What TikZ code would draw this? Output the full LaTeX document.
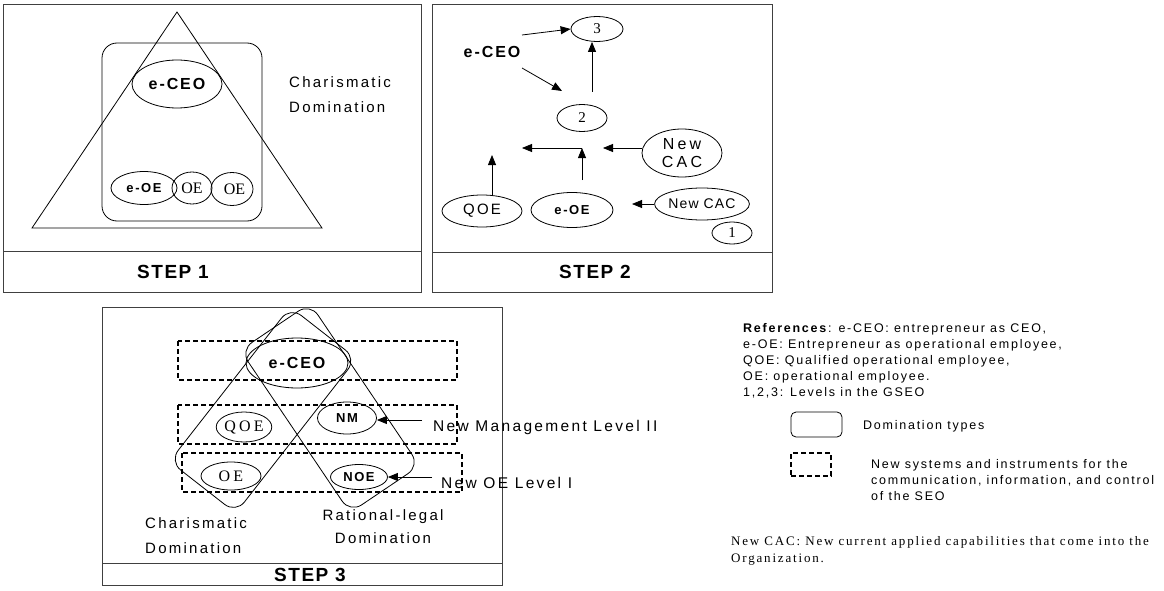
\documentclass[tikz,border=0pt]{standalone}
\usepackage{fontspec}
\setmainfont{Liberation Serif}
\newfontfamily\wsans[LetterSpace=15]{Liberation Sans}
\newfontfamily\tsans[LetterSpace=12]{Liberation Sans}
\newfontfamily\ssans[LetterSpace=8]{Liberation Sans}
\newfontfamily\csans[LetterSpace=20]{Liberation Sans}
\newfontfamily\lsans[LetterSpace=14]{Liberation Sans}
\newfontfamily\wserif[LetterSpace=20]{Liberation Serif}
\newfontfamily\lserif[LetterSpace=14]{Liberation Serif}
\usetikzlibrary{arrows.meta,shapes.geometric}
\tikzset{oval/.style={ellipse,draw,inner sep=0pt,line width=.8pt},
  domtype/.style={draw,rounded corners=14pt,line width=.8pt,minimum width=196pt,minimum height=84pt,inner sep=0pt},
  sysbox/.style={draw,dash pattern=on 5pt off 3pt,line width=1.2pt},
  panel/.style={line width=.9pt,black!75},
  arrow/.style={-{Triangle[length=10pt,width=8pt]},line width=.8pt},
  steptxt/.style={font=\ssans\bfseries\fontsize{19}{22}\selectfont,inner sep=0pt},
  tagtxt/.style={font=\tsans\bfseries\fontsize{13}{15}\selectfont},
  ceotxt/.style={font=\tsans\bfseries\fontsize{16}{18}\selectfont},
  captxt/.style={font=\wsans\fontsize{15}{25}\selectfont,align=left,inner sep=0pt},
  romtxt/.style={font=\wserif\fontsize{16}{18}\selectfont},
  numtxt/.style={font=\rmfamily\fontsize{15}{17}\selectfont},
  legtxt/.style={font=\lsans\fontsize{12.5}{16}\selectfont,align=left,inner sep=0pt}}
\begin{document}
\begin{tikzpicture}[x=1pt,y=-1pt]
  \path[use as bounding box] (0,0) rectangle (1164,591);
  \draw[panel] (3,4) rectangle (421,292) (3,251) -- (421,251);
  \draw[panel] (432,4) rectangle (772,292) (432,252) -- (772,252);
  \draw[panel] (102,307) rectangle (502,585) (102,563) -- (502,563);
  \node[steptxt] (s1) at (173,272) {STEP 1};
  \node[steptxt] (s2) at (595,272) {STEP 2};
  \node[steptxt] (s3) at (310,575) {STEP 3};

  \draw[line width=.8pt] (177,12) -- (32,228) -- (322,228) -- cycle;
  \draw[line width=.8pt,rounded corners=15pt] (102,43) rectangle (262,221);
  \node[oval,minimum width=90pt,minimum height=48pt,ceotxt] (ceo1) at (177,84) {e-CEO};
  \node[oval,minimum width=66pt,minimum height=33pt,tagtxt] (eoe1) at (144,188) {e-OE};
  \node[oval,minimum width=40pt,minimum height=32pt,font=\rmfamily\fontsize{16}{18}\selectfont] (oe1) at (192,188) {OE};
  \node[oval,minimum width=42pt,minimum height=33pt,font=\rmfamily\fontsize{16}{18}\selectfont] (oe2) at (232,189) {\raisebox{-4pt}{\hspace*{5pt}OE}};
  \node[captxt,anchor=west] (chd1) at (289,94.5) {Charismatic\\Domination};

  \node[ceotxt] (ceo2) at (492,52) {e-CEO};
  \node[oval,minimum width=52pt,minimum height=25pt,numtxt] (lv3) at (597,29) {3};
  \node[oval,minimum width=50pt,minimum height=27pt,numtxt] (lv2) at (582,118) {2};
  \node[oval,minimum width=40pt,minimum height=22pt,numtxt] (lv1) at (732,233) {\raisebox{-6pt}{1}};
  \node[oval,minimum width=80pt,minimum height=48pt,font=\csans\fontsize{16}{18}\selectfont,align=center] (cac2) at (682,153) {New\\CAC};
  \node[oval,minimum width=81pt,minimum height=32pt,font=\ssans\fontsize{14}{16}\selectfont] (cac1) at (702,204) {New CAC};
  \node[oval,minimum width=80pt,minimum height=32pt,font=\wsans\fontsize{15}{17}\selectfont] (qoe2) at (482,211) {QOE};
  \node[oval,minimum width=82pt,minimum height=35pt,tagtxt] (eoe2) at (572,210) {e-OE};
  \coordinate (c3) at (522,35);
  \coordinate (c2) at (522,68);
  \coordinate (c2t) at (562,91);
  \coordinate (c23) at (592,92);
  \coordinate (ja) at (603,148);
  \coordinate (jb) at (582,148);
  \coordinate (jc) at (522,148);
  \coordinate (jd) at (582,180);
  \coordinate (qa) at (492,155);
  \coordinate (ka) at (632,204);
  \draw[arrow] (c3) -- (lv3.west);
  \draw[arrow] (c2) -- (c2t);
  \draw[arrow] (c23) -- (c23 |- lv3.south);
  \draw[arrow] (ja -| cac2.west) -- (ja);
  \draw[arrow] (jd) -- (jb);
  \draw[arrow] (jb) -- (jc);
  \draw[arrow] (qa |- qoe2.north) -- (qa);
  \draw[arrow] (cac1.west) -- (ka);

  \draw[sysbox] (178,341) rectangle (457,380);
  \draw[sysbox] (178,405) rectangle (457,444);
  \draw[sysbox] (182,453) rectangle (462,492);
  \node[domtype,rotate=52] (chd3) at (263,410) {};
  \node[domtype,rotate=-56] (rld3) at (330,408) {};
  \node[oval,minimum width=102pt,minimum height=50pt,ceotxt] (ceo3) at (297,363) {e-CEO};
  \node[oval,minimum width=52pt,minimum height=30pt,romtxt] (qoe3) at (244,427) {QOE};
  \node[oval,minimum width=59pt,minimum height=32pt,tagtxt] (nm3) at (347,418) {NM};
  \node[oval,minimum width=60pt,minimum height=28pt,romtxt] (oe3) at (231,476) {OE};
  \node[oval,minimum width=57pt,minimum height=25pt,tagtxt] (noe3) at (359,477) {NOE};
  \coordinate (nma) at (422,420);
  \coordinate (noea) at (432,477);
  \draw[arrow] (nma) -- (nma -| nm3.east);
  \draw[arrow] (noea) -- (noe3.east);
  \node[captxt,anchor=west,font=\wsans\fontsize{15.5}{18}\selectfont] (nml) at (433,427) {New Management Level II};
  \node[captxt,anchor=west,font=\wsans\fontsize{15.5}{18}\selectfont] (oel) at (441,483) {New OE Level I};
  \node[captxt,anchor=west] (chd3l) at (145,535.5) {Charismatic\\Domination};
  \node[captxt,align=center,font=\wsans\fontsize{15}{23}\selectfont] (rld3l) at (383,526.5) {Rational-legal\\Domination};

  \node[legtxt,anchor=west] (refs) at (743,361) {\textbf{References}: e-CEO: entrepreneur as CEO,\\e-OE: Entrepreneur as operational employee,\\QOE: Qualified operational employee,\\OE: operational employee.\\1,2,3: Levels in the GSEO};
  \node[draw,rounded corners=5pt,line width=.8pt,minimum width=51pt,minimum height=25pt] (dkey) at (816.5,424.5) {};
  \node[legtxt,anchor=west] (dkeyl) at (863,426) {Domination types};
  \node[sysbox,minimum width=40pt,minimum height=23pt] (skey) at (811,464.5) {};
  \node[legtxt,anchor=west] (skeyl) at (871,480) {New systems and instruments for the\\communication, information, and control\\of the SEO};
  \node[font=\lserif\fontsize{13}{17}\selectfont,align=left,anchor=west,inner sep=0pt] (cacl) at (731,551) {New CAC: New current applied capabilities that come into the\\Organization.};
\end{tikzpicture}
\end{document}
